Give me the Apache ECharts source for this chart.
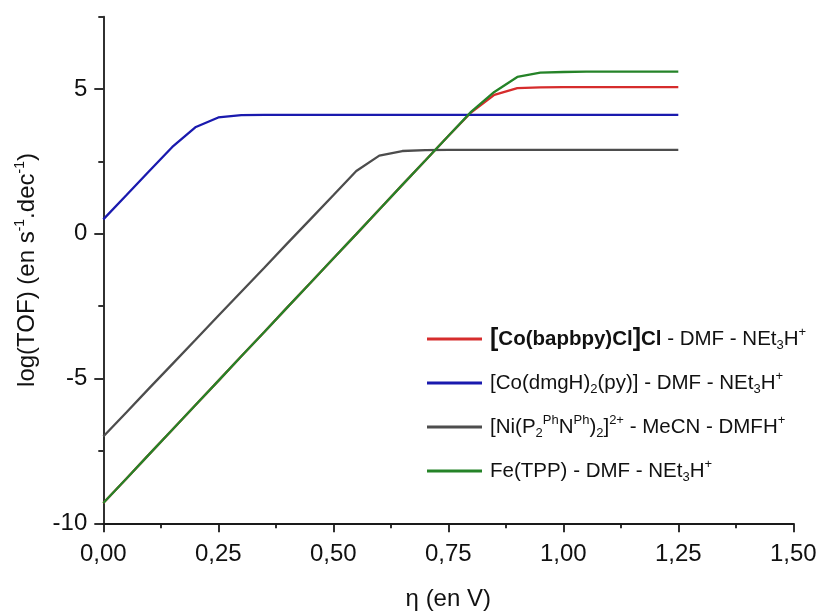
<!DOCTYPE html>
<html>
<head>
<meta charset="utf-8">
<script src="https://cdn.jsdelivr.net/npm/echarts@6/dist/echarts.min.js"></script>
<style>html,body{margin:0;padding:0;background:#fff}#c{width:818px;height:612px}</style>
</head>
<body>
<div id="c"></div>
<script>
const eta = [0,0.05,0.10,0.15,0.20,0.25,0.30,0.35,0.40,0.45,0.50,0.55,0.60,0.65,0.70,0.75,0.80,0.85,0.90,0.95,1.00,1.05,1.10,1.15,1.20,1.25];
const coBapbpy = [-9.30,-8.46,-7.61,-6.77,-5.92,-5.08,-4.23,-3.39,-2.54,-1.70,-0.85,-0.01,0.84,1.69,2.53,3.38,4.20,4.80,5.03,5.06,5.07,5.07,5.07,5.07,5.07,5.07];
const coDmg = [0.50,1.33,2.17,3.00,3.68,4.02,4.10,4.11,4.11,4.11,4.11,4.11,4.11,4.11,4.11,4.11,4.11,4.11,4.11,4.11,4.11,4.11,4.11,4.11,4.11,4.11];
const niP2N2 = [-7.00,-6.17,-5.33,-4.50,-3.67,-2.83,-2.00,-1.17,-0.33,0.50,1.33,2.17,2.70,2.86,2.89,2.90,2.90,2.90,2.90,2.90,2.90,2.90,2.90,2.90,2.90,2.90];
const feTpp = [-9.30,-8.46,-7.61,-6.77,-5.92,-5.08,-4.23,-3.39,-2.54,-1.70,-0.85,-0.01,0.84,1.69,2.53,3.38,4.22,4.90,5.42,5.57,5.59,5.60,5.60,5.60,5.60,5.60];
const xTicks = [0,0.25,0.5,0.75,1.0,1.25,1.5];
const yTicks = [-10,-5,0,5];
const yMinorTicks = [-7.5,-2.5,2.5,7.5];
const seriesNames = ['coBapbpy','coDmg','niP2N2','feTpp'];
const legendLabels = {
  coBapbpy: '{bb|[}{b|Co(bapbpy)Cl}{bb|]}{b|Cl} - DMF - NEt{sub|3}H{sup|+}',
  coDmg: '[Co(dmgH){sub|2}(py)] - DMF - NEt{sub|3}H{sup|+}',
  niP2N2: '[Ni(P{sub|2}{sup|Ph}N{sup|Ph}){sub|2}]{sup|2+} - MeCN - DMFH{sup|+}',
  feTpp: 'Fe(TPP) - DMF - NEt{sub|3}H{sup|+}'
};
const colors = {coBapbpy:'#d62c2c', coDmg:'#1a1aae', niP2N2:'#4d4d4d', feTpp:'#258328'};
const values = {coBapbpy, coDmg, niP2N2, feTpp};

const FONT = '"Liberation Sans", Arial, sans-serif';
const chart = echarts.init(document.getElementById('c'), null, {renderer:'canvas'});
const pair = arr => eta.map((x,i)=>[x, arr[i]]);

chart.setOption({
  animation: false,
  backgroundColor: '#fff',
  grid: {left: 103.3, right: 24.7, top: 16.7, bottom: 88.7, containLabel: false, outerBoundsMode: 'none'},
  legend: {
    orient: 'vertical',
    left: 422, top: 321,
    itemWidth: 55, itemHeight: 3, itemGap: 18,
    icon: 'rect',
    data: seriesNames,
    formatter: n => legendLabels[n],
    textStyle: {
      fontFamily: FONT, fontSize: 20.5, color: '#111', lineHeight: 26, padding: [0,0,0,3],
      rich: {
        b: {fontFamily: FONT, fontSize: 20.5, fontWeight: 'bold', color: '#111', lineHeight: 26},
        bb: {fontFamily: FONT, fontSize: 25, fontWeight: 'bold', color: '#111', lineHeight: 26},
        sub: {fontFamily: FONT, fontSize: 13, color: '#111', lineHeight: 10, verticalAlign: 'bottom'},
        sup: {fontFamily: FONT, fontSize: 13, color: '#111', lineHeight: 10, verticalAlign: 'top'}
      }
    }
  },
  xAxis: {
    type: 'value', min: 0, max: 1.5, interval: 0.25,
    name: 'η (en V)', nameLocation: 'middle', nameGap: 64,
    nameTextStyle: {fontFamily: FONT, fontSize: 24, color: '#111'},
    axisLine: {show: true, onZero: false, lineStyle: {color: '#1a1a1a', width: 1.8}},
    axisTick: {show: true, inside: false, length: 9, customValues: xTicks, lineStyle: {color: '#1a1a1a', width: 1.8}},
    minorTick: {show: true, splitNumber: 2, length: 5, lineStyle: {color: '#1a1a1a', width: 1.8}},
    axisLabel: {customValues: xTicks, margin: 19, fontFamily: FONT, fontSize: 24, color: '#111',
      formatter: v => v.toFixed(2).replace('.', ',')},
    splitLine: {show: false}
  },
  yAxis: [{
    type: 'value', min: -10, max: 7.5, interval: 5, position: 'left',
    name: 'log(TOF) (en s{sup|-1}.dec{sup|-1})', nameLocation: 'middle', nameGap: 55, nameRotate: 90,
    nameTextStyle: {fontFamily: FONT, fontSize: 24, color: '#111', lineHeight: 29,
      rich: {sup: {fontFamily: FONT, fontSize: 14, color: '#111', lineHeight: 11, verticalAlign: 'top'}}},
    axisLine: {show: true, onZero: false, lineStyle: {color: '#1a1a1a', width: 1.8}},
    axisTick: {show: true, inside: false, length: 9, customValues: yTicks, lineStyle: {color: '#1a1a1a', width: 1.8}},
    axisLabel: {customValues: yTicks, margin: 16, fontFamily: FONT, fontSize: 24, color: '#111'},
    splitLine: {show: false}
  }, {
    type: 'value', min: -10, max: 7.5, position: 'left', offset: 0,
    axisLine: {show: false},
    axisTick: {show: true, inside: false, length: 5, customValues: yMinorTicks, lineStyle: {color: '#1a1a1a', width: 1.8}},
    axisLabel: {show: false},
    splitLine: {show: false}
  }],
  series: seriesNames.map(n => ({
    name: n, type: 'line', xAxisIndex: 0, yAxisIndex: 0,
    data: pair(values[n]),
    showSymbol: false, symbol: 'none',
    lineStyle: {color: colors[n], width: 2.3},
    itemStyle: {color: colors[n]}
  }))
});
</script>
</body>
</html>
